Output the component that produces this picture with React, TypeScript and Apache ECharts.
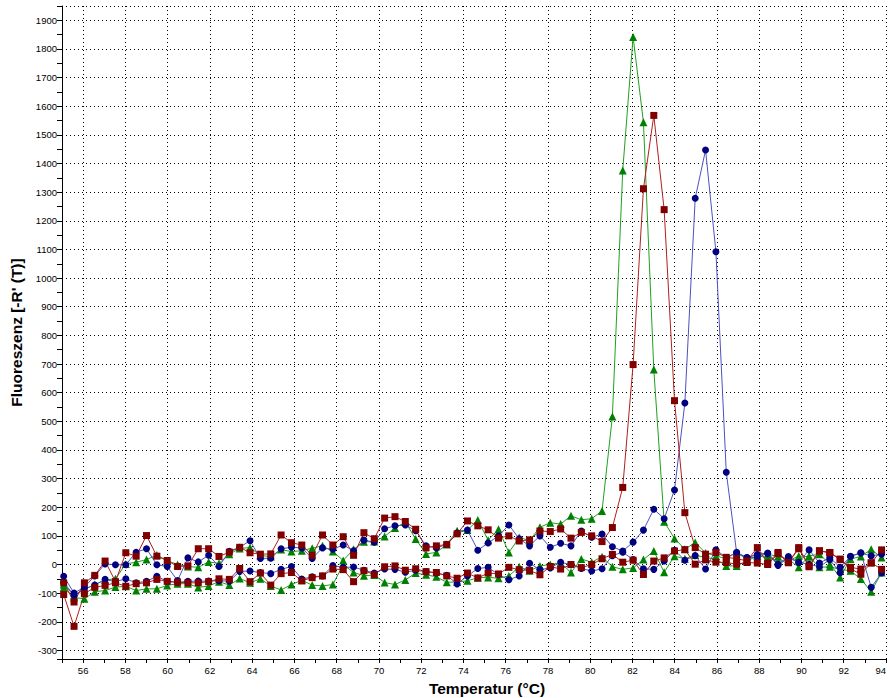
import React, { useEffect, useRef } from 'react';
import * as echarts from 'echarts';

const temps = [
  55.08, 55.57, 56.06, 56.55, 57.04, 57.53, 58.02, 58.51, 59.0, 59.49,
  59.98, 60.47, 60.96, 61.45, 61.94, 62.43, 62.92, 63.41, 63.9, 64.39,
  64.88, 65.37, 65.86, 66.35, 66.84, 67.33, 67.82, 68.31, 68.8, 69.29,
  69.78, 70.27, 70.76, 71.25, 71.74, 72.23, 72.72, 73.21, 73.7, 74.19,
  74.68, 75.17, 75.66, 76.15, 76.64, 77.13, 77.62, 78.11, 78.6, 79.09,
  79.58, 80.07, 80.56, 81.05, 81.54, 82.03, 82.52, 83.01, 83.5, 83.99,
  84.48, 84.97, 85.46, 85.95, 86.44, 86.93, 87.42, 87.91, 88.4, 88.89,
  89.38, 89.87, 90.36, 90.85, 91.34, 91.83, 92.32, 92.81, 93.3, 93.79,
];

const redPeak = [
  -64, -131, -64, -38, 12, -60, 41, 29, 101, 29,
  14, -7, -5, 55, 55, 28, 43, 60, 41, 36,
  37, 103, 76, 68, 32, 103, 68, 97, 32, 111,
  90, 162, 167, 150, 123, 58, 65, 70, 107, 152,
  135, 121, 92, 100, 82, 86, 117, 115, 124, 92,
  112, 100, 80, 129, 269, 698, 1312, 1568, 1239, 572,
  181, 59, 36, 42, 25, 20, 13, 59, 5, 42,
  7, 59, -5, 48, 42, 19, -10, -16, 5, 51,
];

const bluePeak = [
  -41, -100, -79, -40, 2, -1, -1, 43, 55, -1,
  -7, -56, 23, 9, 32, -7, 46, 60, 83, 21,
  22, 55, 60, 58, 21, 58, 53, 68, 48, 85,
  78, 125, 135, 138, 118, 65, 58, 70, 110, 120,
  50, 75, 100, 138, 90, 65, 100, 60, 74, 65,
  117, 95, 106, 62, 47, 78, 120, 193, 160, 260,
  564, 1279, 1447, 1092, 322, 42, 24, 24, 40, 1,
  28, 7, 51, 5, 24, -10, 28, 40, 30, 36,
];

const greenPeak = [
  -70, -108, -87, -70, -54, -50, 2, 8, 17, 33,
  13, 0, -7, -10, 9, 4, 36, 56, 59, 31,
  28, 52, 45, 48, 57, 65, 45, 14, 53, 79,
  80, 98, 127, 148, 89, 37, 42, 70, 118, 120,
  155, 85, 123, 42, 94, 84, 130, 146, 141, 170,
  156, 160, 187, 517, 1376, 1842, 1544, 681, 149, 91,
  53, 77, 40, 30, 20, 44, 16, 42, 36, 28,
  19, -10, 30, 36, 1, -45, 19, 28, 53, 24,
];

const redFlat = [
  -105, -216, -102, -80, -73, -64, -76, -67, -64, -52,
  -59, -62, -64, -64, -60, -50, -52, -14, -60, -30,
  -72, -32, -28, -57, -46, -40, -16, -18, -60, -22,
  -35, -8, -5, -20, -15, -25, -28, -40, -48, -30,
  -47, -30, -33, -10, -18, -21, -36, -7, -16, 0,
  -11, 0, 20, 35, 8, 15, -35, 12, 23, 47,
  52, 1, 16, 8, 7, 1, 7, 5, 0, 38,
  6, 55, -8, 47, 41, 17, -15, -34, 6, -17,
];

const blueFlat = [
  -62, -108, -85, -72, -52, -60, -50, -64, -59, -41,
  -59, -62, -59, -58, -58, -57, -58, -24, -23, -28,
  -32, -17, -7, -51, -43, -40, -4, -10, -9, -20,
  -30, -16, -17, -27, -20, -25, -30, -38, -68, -40,
  -14, -10, -36, -53, -40, 4, -18, -12, 8, -1,
  -14, -23, -15, 31, 43, 17, -15, -17, 12, 50,
  15, 31, -16, 51, 24, 42, 24, 35, 38, -3,
  23, 7, 1, -8, 17, -29, 29, 41, -80, -30,
];

const greenFlat = [
  -80, -115, -120, -95, -91, -79, -76, -91, -85, -85,
  -73, -67, -67, -80, -75, -60, -72, -49, -64, -50,
  -75, -89, -70, -55, -72, -75, -70, 0, -28, -39,
  -37, -63, -70, -54, -30, -36, -43, -62, -61, -57,
  -46, -45, -48, -40, -8, -22, -5, 0, 6, -28,
  19, 8, 27, -8, -17, -12, 17, 47, -27, 29,
  20, 33, 24, 19, -5, -5, 12, 30, 24, 13,
  12, 30, 27, -10, -8, -17, -22, -51, -95, -28,
];

const FONT = '"Liberation Sans", Arial, sans-serif';

function makeSeries(name: string, values: number[], symbol: string, size: number, markerColor: string, lineColor: string) {
  return {
    name,
    type: 'line',
    data: temps.map((t, i) => [t, values[i]]),
    symbol,
    symbolSize: size,
    showAllSymbol: true,
    itemStyle: { color: markerColor },
    lineStyle: { color: lineColor, width: 1 },
    emphasis: { disabled: true },
    silent: true,
  };
}

export default function App() {
  const ref = useRef<HTMLDivElement>(null);
  useEffect(() => {
    document.body.style.margin = '0';
    const chart = echarts.init(ref.current!, null, { renderer: 'svg' });
    const dotted = { type: [1, 3], color: '#000', width: 1 };
    const plain = (v: number) => String(Math.round(v));
    chart.setOption({
      animation: false,
      backgroundColor: '#fff',
      grid: { left: 62, right: 2, top: 6, bottom: 39, containLabel: false, outerBoundsMode: 'none' },
      xAxis: {
        type: 'value',
        min: 55,
        max: 94,
        splitNumber: 20,
        name: 'Temperatur (°C)',
        nameLocation: 'middle',
        nameGap: 21,
        nameTextStyle: { fontFamily: FONT, fontWeight: 'bold', fontSize: 15.5, color: '#000', padding: [0, 0, 0, 26] },
        axisLine: { show: true, onZero: false, lineStyle: { color: '#000', width: 1 } },
        axisTick: { show: true, length: 4, lineStyle: { color: '#000' } },
        minorTick: { show: true, splitNumber: 2, length: 4, lineStyle: { color: '#000' } },
        axisLabel: {
          fontFamily: FONT, fontSize: 9.5, color: '#000', margin: 6,
          showMinLabel: false, alignMaxLabel: 'right', formatter: plain,
        },
        splitLine: { show: true, lineStyle: dotted },
      },
      yAxis: {
        type: 'value',
        min: -330,
        max: 1950,
        splitNumber: 23,
        name: "Fluoreszenz [-R' (T)]",
        nameLocation: 'middle',
        nameGap: 36,
        nameTextStyle: { fontFamily: FONT, fontWeight: 'bold', fontSize: 15.5, color: '#000' },
        axisLine: { show: true, lineStyle: { color: '#000', width: 1 } },
        axisTick: { show: true, length: 5, lineStyle: { color: '#000' } },
        minorTick: { show: true, splitNumber: 2, length: 5, lineStyle: { color: '#000' } },
        axisLabel: { fontFamily: FONT, fontSize: 9.5, color: '#000', margin: 5, showMinLabel: false, showMaxLabel: false, formatter: plain },
        splitLine: { show: true, lineStyle: dotted },
      },
      series: [
        makeSeries('Grün Peak', greenPeak, 'triangle', 8, '#008000', '#20A020'),
        makeSeries('Grün Basis', greenFlat, 'triangle', 8, '#008000', '#20A020'),
        makeSeries('Blau Peak', bluePeak, 'circle', 7, '#000080', '#5050C0'),
        makeSeries('Blau Basis', blueFlat, 'circle', 7, '#000080', '#5050C0'),
        makeSeries('Rot Peak', redPeak, 'rect', 7, '#800000', '#B02020'),
        makeSeries('Rot Basis', redFlat, 'rect', 7, '#800000', '#B02020'),
      ],
    });
    return () => chart.dispose();
  }, []);
  return <div ref={ref} style={{ width: 888, height: 698 }} />;
}
